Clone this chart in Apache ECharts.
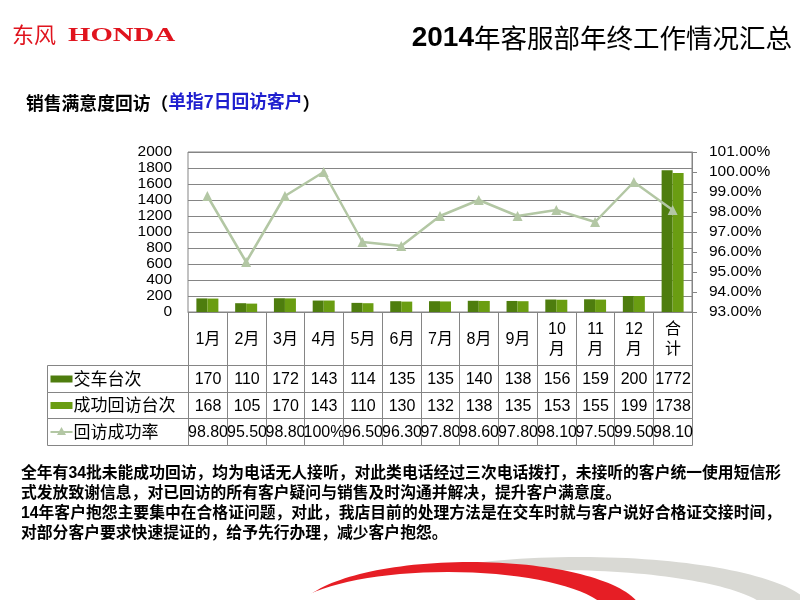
<!DOCTYPE html>
<html><head><meta charset="utf-8">
<script src="https://cdn.jsdelivr.net/npm/echarts@6/dist/echarts.min.js"></script>
<style>html,body{margin:0;padding:0;background:#fff}#c{width:800px;height:600px}</style>
</head><body><div id="c"></div>
<script>
// ---------- data ----------
const months = ['1月','2月','3月','4月','5月','6月','7月','8月','9月','10月','11月','12月','合计'];
const monthHeaders = ['1月','2月','3月','4月','5月','6月','7月','8月','9月','10\n月','11\n月','12\n月','合\n计'];
const deliveries = [170,110,172,143,114,135,135,140,138,156,159,200,1772];
const visits = [168,105,170,143,110,130,132,138,135,153,155,199,1738];
const rate = [98.8,95.5,98.8,100,96.5,96.3,97.8,98.6,97.8,98.1,97.5,99.5,98.1];
const rateText = ['98.80','95.50','98.80','100%','96.50','96.30','97.80','98.60','97.80','98.10','97.50','99.50','98.10'];
const seriesNames = ['交车台次','成功回访台次','回访成功率'];
const titleText = '年客服部年终工作情况汇总';
const paragraph = [
  '全年有34批未能成功回访，均为电话无人接听，对此类电话经过三次电话拨打，未接听的客户统一使用短信形',
  '式发放致谢信息，对已回访的所有客户疑问与销售及时沟通并解决，提升客户满意度。',
  '14年客户抱怨主要集中在合格证问题，对此，我店目前的处理方法是在交车时就与客户说好合格证交接时间，',
  '对部分客户要求快速提证的，给予先行办理，减少客户抱怨。'
];

// ---------- styles ----------
const C_DARK = '#4e7d0e', C_LIGHT = '#6a9d12', C_LINE = '#b3c7a4', C_GRID = '#858585';
const FONT = '"Liberation Sans","Noto Sans CJK SC",sans-serif';
const HEAD_W = 141;
const rowTop = [5, 3, 2, 1], rowBot = [3, 2, 1, 0];

// table cells built from the arrays
const cellMeta = [], cellData = [];
const rowTexts = [monthHeaders, deliveries.map(String), visits.map(String), rateText];
for (let r = 0; r < 4; r++) {
  if (r > 0) { cellMeta.push({head: true, row: r, text: seriesNames[r-1]}); cellData.push([0, r]); }
  for (let i = 0; i < months.length; i++) {
    cellMeta.push({head: false, row: r, text: rowTexts[r][i]}); cellData.push([i, r]);
  }
}

function renderCell(params, api) {
  const m = cellMeta[params.dataIndex];
  const c = api.coord([api.value(0), 0]);
  const w = api.size([1, 0])[0];
  const yT = Math.round(api.coord([0, rowTop[m.row]])[1]) + 0.5;
  const yB = Math.round(api.coord([0, rowBot[m.row]])[1]) + 0.5;
  let x0, x1;
  if (m.head) { x1 = c[0] - w / 2; x0 = x1 - HEAD_W; } else { x0 = c[0] - w / 2; x1 = c[0] + w / 2; }
  x0 = Math.round(x0) + 0.5; x1 = Math.round(x1) + 0.5;
  const cy = (yT + yB) / 2;
  const children = [{
    type: 'rect', shape: {x: x0, y: yT, width: x1 - x0, height: yB - yT},
    style: {fill: 'none', stroke: C_GRID, lineWidth: 1}
  }];
  if (m.head) {
    if (m.row === 1 || m.row === 2) {
      children.push({type: 'rect', shape: {x: x0 + 3, y: cy - 3.5, width: 22, height: 7},
        style: {fill: m.row === 1 ? C_DARK : C_LIGHT}});
    } else {
      children.push({type: 'line', shape: {x1: x0 + 3, y1: cy, x2: x0 + 25, y2: cy},
        style: {stroke: C_LINE, lineWidth: 2}});
      children.push({type: 'polygon', shape: {points: [[x0 + 14, cy - 5], [x0 + 18.5, cy + 3], [x0 + 9.5, cy + 3]]},
        style: {fill: C_LINE}});
    }
    children.push({type: 'text', style: {text: m.text, x: x0 + 26, y: cy + 1, align: 'left', verticalAlign: 'middle',
      font: '17px ' + FONT, fill: '#000'}});
  } else {
    children.push({type: 'text', style: {text: m.text, x: (x0 + x1) / 2, y: cy + 1, align: 'center', verticalAlign: 'middle',
      font: '16px ' + FONT, fill: '#000', lineHeight: 20}});
  }
  return {type: 'group', children};
}

const chart = echarts.init(document.getElementById('c'), null, {renderer: 'canvas'});
chart.setOption({
  animation: false,
  backgroundColor: '#fff',
  grid: [
    {left: 188, right: 108, top: 152, height: 160, show: true, borderColor: C_GRID, borderWidth: 1, backgroundColor: 'transparent'},
    {left: 188, right: 108, top: 312, height: 133}
  ],
  xAxis: [
    {type: 'category', gridIndex: 0, data: months, axisLabel: {show: false}, axisTick: {show: false},
      axisLine: {show: true, lineStyle: {color: C_GRID}}},
    {type: 'category', gridIndex: 1, data: months, show: false}
  ],
  yAxis: [
    {type: 'value', gridIndex: 0, min: 0, max: 2000, interval: 200,
      axisLine: {show: false}, axisTick: {show: false},
      axisLabel: {color: '#000', fontSize: 15.5, fontFamily: FONT, margin: 16, formatter: v => String(v)},
      splitLine: {lineStyle: {color: C_GRID}}},
    {type: 'value', gridIndex: 0, position: 'right', min: 93, max: 101, interval: 1,
      axisLine: {show: true, lineStyle: {color: C_GRID}},
      axisTick: {show: true, length: 5, lineStyle: {color: C_GRID}},
      axisLabel: {color: '#000', fontSize: 15.5, fontFamily: FONT, margin: 17, formatter: v => v.toFixed(2) + '%'},
      splitLine: {show: false}},
    {type: 'value', gridIndex: 1, min: 0, max: 5, show: false}
  ],
  series: [
    {name: seriesNames[0], type: 'bar', xAxisIndex: 0, yAxisIndex: 0, data: deliveries, barWidth: 11, barGap: '0%',
      itemStyle: {color: C_DARK}},
    {name: seriesNames[1], type: 'bar', xAxisIndex: 0, yAxisIndex: 0, data: visits, barWidth: 11,
      itemStyle: {color: C_LIGHT}},
    {name: seriesNames[2], type: 'line', xAxisIndex: 0, yAxisIndex: 1, data: rate, symbol: 'triangle', symbolSize: 10,
      lineStyle: {color: C_LINE, width: 2.5}, itemStyle: {color: C_LINE}, z: 5},
    {type: 'custom', xAxisIndex: 1, yAxisIndex: 2, data: cellData, renderItem: renderCell, clip: false, silent: true}
  ],
  graphic: [
    // bottom-right decoration
    {type: 'ellipse', shape: {cx: 580, cy: 612, rx: 232, ry: 55}, style: {fill: '#d9d9d4'}, z: -10},
    {type: 'ellipse', shape: {cx: 555, cy: 616, rx: 215, ry: 46}, style: {fill: '#fff'}, z: -9},
    {type: 'ellipse', shape: {cx: 470, cy: 614, rx: 172, ry: 52}, style: {fill: '#e61e25'}, z: -8},
    {type: 'ellipse', shape: {cx: 448, cy: 618, rx: 162, ry: 46}, style: {fill: '#fff'}, z: -7},
    // logo
    {type: 'text', x: 12, y: 35, style: {text: '东风', font: '22px "Noto Sans CJK SC"', fill: '#e0141e', verticalAlign: 'middle'}},
    {type: 'text', x: 68, y: 36, scaleX: 1.6, style: {text: 'HONDA', font: 'bold 18px "Liberation Serif"', fill: '#e0141e', verticalAlign: 'middle'}},
    // title
    {type: 'text', x: 792, y: 38, style: {
      text: '{n|2014}{c|' + titleText + '}', align: 'right', verticalAlign: 'middle',
      rich: {n: {font: 'bold 28px "Liberation Sans"', fill: '#000'}, c: {font: '26.5px "Noto Sans CJK SC"', fill: '#000'}}}},
    // subtitle
    {type: 'text', x: 26, y: 103, style: {
      text: '{a|销售满意度回访（}{b|单指7日回访客户}{a|）}', verticalAlign: 'middle',
      rich: {a: {font: 'bold 17.8px "Noto Sans CJK SC"', fill: '#000'}, b: {font: 'bold 17.8px "Liberation Sans","Noto Sans CJK SC"', fill: '#1f1fcf'}}}},
    // paragraph
    {type: 'text', x: 21, y: 464, style: {
      text: paragraph.join('\n'), font: 'bold 15.8px "Liberation Sans","Noto Sans CJK SC"', fill: '#000', lineHeight: 20}}
  ]
});
</script></body></html>
